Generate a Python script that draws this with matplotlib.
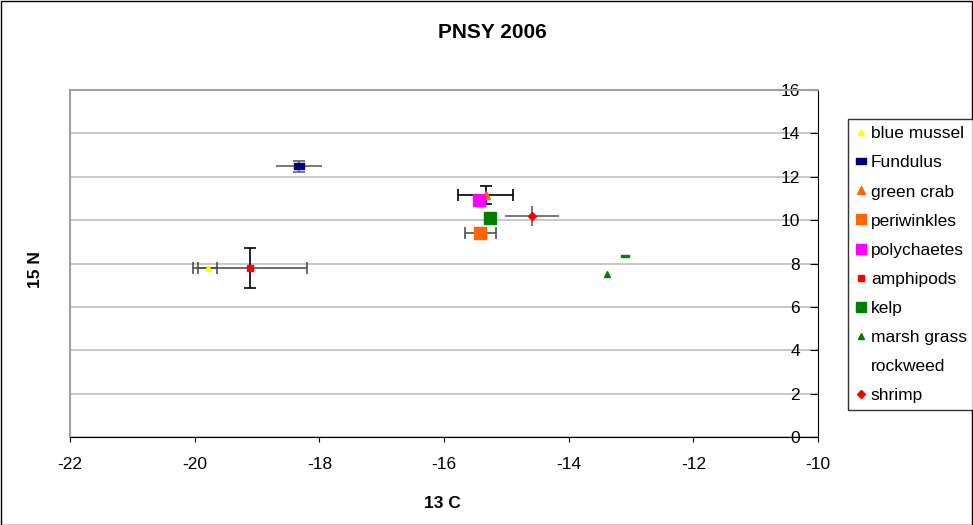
import matplotlib
matplotlib.use("Agg")
import matplotlib.pyplot as plt
from matplotlib.path import Path
from matplotlib.patches import Rectangle
from matplotlib.lines import Line2D

plt.rcParams['font.family'] = ['Liberation Sans', 'DejaVu Sans']
plt.rcParams['axes.unicode_minus'] = False

# ---- data ----
species = ["blue mussel", "Fundulus", "green crab", "periwinkles", "polychaetes",
           "amphipods", "kelp", "marsh grass", "rockweed", "shrimp"]
c13 = [-19.79, -18.33, -15.33, -15.42, -15.44, -19.11, -15.26, -13.39, -13.10, -14.59]
n15 = [7.80, 12.48, 11.16, 9.42, 10.94, 7.80, 10.11, 7.51, 8.33, 10.19]
c13_err = [0.15, 0.37, 0.44, 0.25, 0.0, 0.91, 0.0, 0.0, 0.0, 0.43]
n15_err = [0.0, 0.26, 0.43, 0.0, 0.0, 0.93, 0.0, 0.0, 0.0, 0.45]
xticks = [-22, -20, -18, -16, -14, -12, -10]
yticks = [0, 2, 4, 6, 8, 10, 12, 14, 16]

# ---- styles ----
wide = Path([(-1, -0.55), (1, -0.55), (1, 0.55), (-1, 0.55), (-1, -0.55)],
            [Path.MOVETO, Path.LINETO, Path.LINETO, Path.LINETO, Path.CLOSEPOLY])
dash = Path([(-1, -0.3), (1, -0.3), (1, 0.3), (-1, 0.3), (-1, -0.3)],
            [Path.MOVETO, Path.LINETO, Path.LINETO, Path.LINETO, Path.CLOSEPOLY])
styles = {
    "blue mussel": dict(marker="^", color="#FFFF00", ms=5, capx=4, capy=0, ecx="#505050", ecy="#505050"),
    "Fundulus": dict(marker=wide, color="#000080", ms=7.5, capx=0, capy=4, ecx="#606060", ecy="#606060"),
    "green crab": dict(marker="^", color="#FF6600", ms=5.5, capx=4, capy=4, ecx="black", ecy="black"),
    "periwinkles": dict(marker="s", color="#FF6600", ms=8.5, capx=4, capy=0, ecx="#505050", ecy="#505050"),
    "polychaetes": dict(marker="s", color="#FF00FF", ms=8.5, capx=0, capy=0, ecx="#505050", ecy="#505050"),
    "amphipods": dict(marker="s", color="#FF0000", ms=4.5, capx=4, capy=4, ecx="#505050", ecy="black"),
    "kelp": dict(marker="s", color="#008000", ms=8, capx=0, capy=0, ecx="#505050", ecy="#505050"),
    "marsh grass": dict(marker="^", color="#008000", ms=5, capx=0, capy=0, ecx="#505050", ecy="#505050"),
    "rockweed": dict(marker=dash, color="#008000", ms=6, capx=0, capy=0, ecx="#505050", ecy="#505050"),
    "shrimp": dict(marker="D", color="#FF0000", ms=4.5, capx=0, capy=0, ecx="#606060", ecy="#606060"),
}

FS = 12.5
W, H = 973, 525
fig = plt.figure(figsize=(W / 100, H / 100), dpi=100)
fig.patch.set_facecolor("white")
fig.add_artist(Rectangle((0.5 / W, 0.5 / H), 1 - 1.5 / W, 1 - 1.5 / H,
                         transform=fig.transFigure, fill=False, ec="black", lw=1))

ax = fig.add_axes([70 / W, (H - 437) / H, 748 / W, 347 / H])
ax.set_xlim(-22, -10)
ax.set_ylim(0, 16)
ax.set_xticks(xticks)
ax.set_yticks(yticks)
ax.yaxis.grid(True, color="#BFBFBF", lw=1.2)
ax.set_axisbelow(True)

for s in ["left", "top"]:
    ax.spines[s].set_color("#A0A0A0")
    ax.spines[s].set_linewidth(1.5)
ax.spines["right"].set_color("black")
ax.spines["bottom"].set_color("black")

ax.tick_params(axis="x", direction="out", length=3.5, labelsize=FS, pad=11, color="black")
ax.tick_params(axis="y", left=False, right=True, labelleft=False, labelright=True,
               direction="in", length=6, labelsize=FS, pad=-13, color="black")
for lab in ax.get_yticklabels():
    lab.set_horizontalalignment("right")

handles = []
for i, name in enumerate(species):
    st = styles[name]
    if c13_err[i] > 0:
        ax.errorbar(c13[i], n15[i], xerr=c13_err[i], fmt="none", ecolor=st["ecx"],
                    elinewidth=1.2, capsize=st["capx"], capthick=1.2, zorder=2)
    if n15_err[i] > 0:
        ax.errorbar(c13[i], n15[i], yerr=n15_err[i], fmt="none", ecolor=st["ecy"],
                    elinewidth=1.2, capsize=st["capy"], capthick=1.2, zorder=2)
    ax.plot(c13[i], n15[i], linestyle="none", marker=st["marker"], color=st["color"],
            ms=st["ms"], mec=st["color"], zorder=3)
    if name == "rockweed":
        h = Line2D([], [], linestyle="none", marker="None")
    else:
        lms = min(st["ms"], 7)
        h = Line2D([], [], linestyle="none", marker=st["marker"], color=st["color"],
                   ms=lms, mec=st["color"])
    handles.append(h)

fig.text(492 / W, 1 - 32.5 / H, "PNSY 2006", ha="center", va="center",
         fontsize=15, fontweight="bold")
fig.text(35 / W, 1 - 270 / H, "15 N", ha="center", va="center", rotation=90,
         fontsize=FS, fontweight="bold")
fig.text(442 / W, 1 - 503 / H, "13 C", ha="center", va="center",
         fontsize=FS, fontweight="bold")

leg = fig.legend(handles, species, loc="upper left",
                 bbox_to_anchor=(848 / W, 1 - 119 / H), bbox_transform=fig.transFigure,
                 fontsize=FS, frameon=True, fancybox=False, edgecolor="black",
                 handlelength=0.6, handletextpad=0.3, labelspacing=0.8,
                 borderpad=0.42, borderaxespad=0)
leg.get_frame().set_linewidth(1)

fig.savefig("out.png", dpi=100, facecolor="white")
